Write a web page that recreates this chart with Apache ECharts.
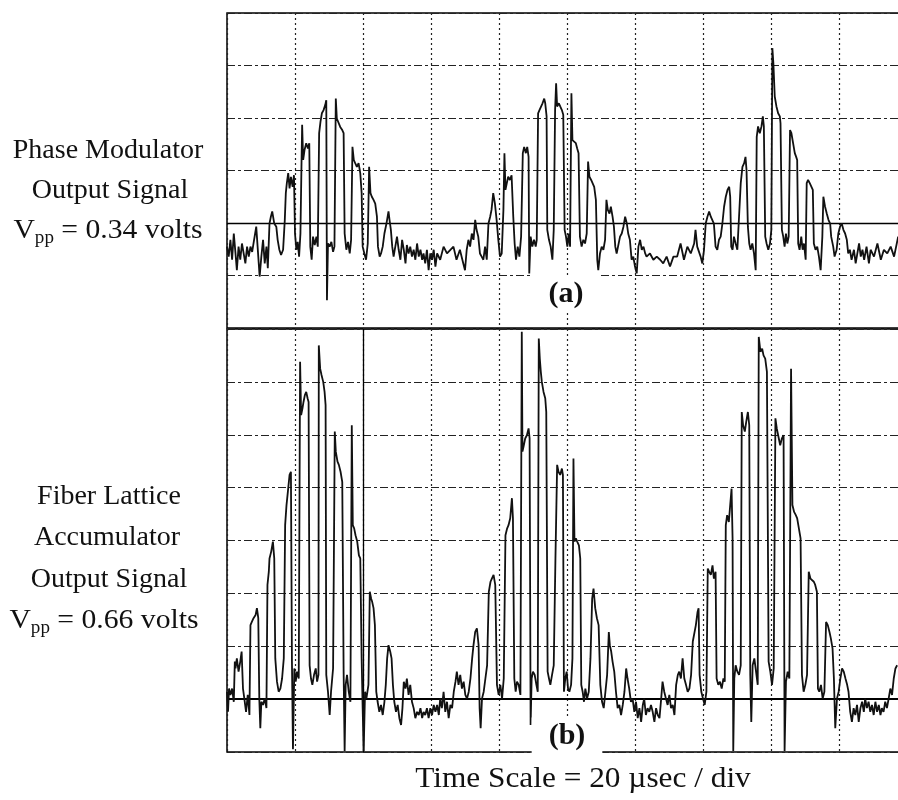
<!DOCTYPE html>
<html>
<head>
<meta charset="utf-8">
<script src="https://cdn.jsdelivr.net/npm/echarts@6/dist/echarts.min.js"></script>
<style>
html,body{margin:0;padding:0;background:#fff;}
#chart{width:898px;height:800px;}
</style>
</head>
<body>
<div id="chart"></div>
<script>
// Time base: microseconds (20 us per division, 10 divisions)
const usPerDiv = 20;
const timeDivs = 10;
// Vertical scale in divisions
const divsA = 6;
const divsB = 8;

const labelsA = ['Phase Modulator', 'Output Signal'];
const vppA = '0.34';
const labelsB = ['Fiber Lattice', 'Accumulator', 'Output Signal'];
const vppB = '0.66';
const timeCaption = 'Time Scale = 20 \u00B5sec / div';
const panelTags = ['(a)', '(b)'];

// Trace (a): [time us, amplitude div]
const traceA = [
[0,1.55],[0.5,1.36],[1.0,1.68],[1.5,1.30],[2.0,1.80],[2.5,1.42],[2.9,1.10],[3.4,1.55],[3.9,1.30],[4.4,1.61],[4.9,1.42],[5.4,1.23],[5.9,1.55],[6.4,1.36],[6.9,1.55],[7.4,1.45],[7.8,1.61],[8.6,1.93],[9.0,1.55],[9.6,0.98],[10.1,1.36],[10.6,1.68],[11.1,1.23],[11.6,1.55],[12.0,1.14],[12.5,1.99],[12.9,2.12],[13.3,2.22],[13.9,1.99],[14.5,1.93],[14.9,1.68],[15.4,1.49],[15.9,1.39],[16.5,1.49],
[17.0,2.06],[17.3,2.57],[17.6,2.76],[18.0,2.95],[18.4,2.66],[18.8,2.88],[19.3,2.69],[19.7,2.91],[20.0,1.80],[20.4,1.49],[20.8,1.64],[21.2,1.36],[21.6,1.80],[21.9,3.07],[22.1,3.87],[22.4,3.20],[22.8,3.39],[23.3,3.52],[23.8,3.42],[24.2,3.52],[24.5,1.55],[24.9,1.30],[25.3,1.74],[25.8,1.58],[26.3,1.74],[26.7,1.55],
[27.1,3.71],[27.5,3.93],[27.9,4.09],[28.4,4.15],[28.9,4.25],[29.2,4.34],[29.4,0.53],[29.7,1.61],[30.2,1.55],[30.7,1.64],[31.2,1.45],[31.6,1.55],[32.0,4.37],[32.3,3.99],[32.7,3.96],[33.3,3.83],[33.9,3.77],[34.3,3.71],[34.6,1.80],[35.1,1.49],[35.6,1.64],[36.1,1.42],[36.5,1.68],
[36.9,3.45],[37.3,3.20],[37.7,3.14],[38.2,3.07],[38.7,3.14],[39.2,2.95],[39.6,2.57],[39.9,1.55],[40.4,1.42],[40.9,1.30],[41.4,1.61],[41.8,3.07],[42.2,2.57],[42.6,2.50],[43.1,2.44],[43.6,2.37],[44.1,2.12],[44.4,1.55],[44.9,1.36],[45.3,1.42],[45.8,1.55],[46.3,1.80],[46.9,1.99],[47.5,2.22],[47.8,2.06],[48.2,1.87],[48.6,1.55],
[49.0,1.36],[49.5,1.55],[50.0,1.74],[50.5,1.49],[51.0,1.30],[51.5,1.68],[52.0,1.49],[52.5,1.23],[52.9,1.58],[53.4,1.42],[53.9,1.55],[54.4,1.36],[54.9,1.49],[55.4,1.30],[55.9,1.61],[56.4,1.36],[56.9,1.49],[57.4,1.30],[57.8,1.42],[58.3,1.23],[58.8,1.49],[59.3,1.10],[59.8,1.42],[60.3,1.30],[60.8,1.49],[61.3,1.17],[61.8,1.42],[62.7,1.30],[63.7,1.55],[64.7,1.42],[65.7,1.49],
[66.6,1.55],[67.5,1.30],[68.5,1.49],[69.5,1.23],[70.0,1.10],[70.5,1.49],[71.0,1.68],[71.5,1.55],[72.0,1.80],[72.5,1.68],[73.0,2.06],[73.4,1.87],[73.9,1.74],[74.4,1.42],[74.9,1.36],[75.4,1.30],[75.9,1.55],[76.4,1.30],[76.9,1.99],[77.4,2.12],[77.8,2.25],[78.3,2.57],[78.8,2.37],[79.3,2.06],[79.8,1.68],[80.3,1.36],[80.8,1.42],
[81.3,2.25],[81.6,3.33],[81.9,2.63],[82.3,2.76],[82.7,2.88],[83.2,2.82],[83.7,2.91],[84.2,2.12],[84.6,1.61],[85.0,1.30],[85.5,1.55],[86.0,1.36],[86.5,1.74],[87.0,3.33],[87.4,3.45],[87.9,3.33],[88.3,3.45],[88.7,3.26],[88.9,1.04],[89.3,1.74],[89.8,1.55],[90.3,1.68],[90.8,1.55],[91.1,1.68],
[91.5,4.09],[91.9,4.15],[92.4,4.18],[92.8,4.28],[93.3,4.37],[93.6,4.28],[94.0,4.03],[94.2,1.87],[94.7,1.68],[95.2,1.55],[95.7,1.30],[96.1,1.87],[96.5,4.15],[96.8,4.66],[97.1,4.22],[97.6,4.28],[98.0,4.22],[98.5,4.15],[98.9,4.06],[99.3,1.87],[99.7,1.74],[100.1,1.55],[100.5,1.80],[100.9,1.55],
[101.3,4.47],[101.6,3.58],[102.1,3.55],[102.6,3.52],[103.0,3.42],[103.4,3.33],[103.8,1.74],[104.3,1.55],[104.8,1.68],[105.3,1.61],[105.8,1.80],[106.2,3.17],[106.6,2.88],[107.1,2.82],[107.6,2.79],[108.0,2.69],[108.5,2.44],[108.9,1.30],[109.2,1.10],[109.7,1.42],[110.2,1.55],[110.7,1.49],[111.2,1.68],
[111.6,2.44],[112.0,2.25],[112.5,2.18],[112.9,2.31],[113.4,2.12],[113.8,1.93],[114.2,1.55],[114.6,1.42],[115.1,1.42],[115.6,1.74],[116.1,1.80],[116.6,1.93],[117.1,2.12],[117.6,1.99],[118.0,1.80],[118.5,1.68],[119.0,1.30],[119.5,1.36],[120.0,1.17],[120.5,1.04],[121.0,1.55],[121.5,1.68],[122.0,1.49],[122.5,1.55],[123.0,1.42],[123.4,1.36],[124.4,1.42],[125.4,1.30],[126.4,1.36],[127.4,1.30],[128.3,1.23],[129.3,1.36],[130.3,1.17],[131.3,1.36],
[132.4,1.36],[133.4,1.61],[134.4,1.30],[135.4,1.55],[136.4,1.42],[137.4,1.61],[137.8,1.87],[138.3,1.55],[139.3,1.36],[139.8,1.23],[140.3,1.49],[140.8,1.99],[141.3,2.12],[141.8,2.22],[142.3,2.12],[142.7,2.15],[143.2,1.99],[143.7,1.55],[144.2,1.49],[144.7,1.68],[145.2,1.74],[145.7,1.99],
[146.2,2.31],[146.7,2.50],[147.2,2.63],[147.7,2.69],[148.0,2.50],[148.3,1.55],[148.7,1.49],[149.1,1.74],[149.6,1.61],[150.1,1.49],[150.6,2.12],[151.1,2.76],[151.6,3.07],[152.1,3.14],[152.5,3.26],[152.8,3.01],[153.2,1.93],[153.6,1.61],[154.0,1.49],[154.5,1.61],[155.0,1.42],[155.5,1.10],
[155.8,3.64],[156.2,3.84],[156.7,3.71],[157.2,3.84],[157.6,4.03],[157.9,3.84],[158.3,1.74],[158.7,1.61],[159.2,1.49],[159.7,1.61],[160.1,1.87],[160.4,5.33],[160.7,5.04],[161.1,4.41],[161.6,4.22],[162.1,4.09],[162.6,4.03],[162.8,3.90],[163.2,1.87],[163.6,1.74],[164.0,1.55],[164.4,1.80],[164.8,1.61],[165.2,1.74],
[165.6,3.77],[166.0,3.71],[166.5,3.52],[167.0,3.33],[167.4,3.26],[167.7,3.20],[168.0,1.61],[168.4,1.49],[168.9,1.74],[169.3,1.49],[169.7,1.61],[170.2,1.30],[170.5,2.76],[170.9,2.82],[171.4,2.76],[171.9,2.69],[172.3,2.63],[172.6,1.61],[173.1,1.49],[173.6,1.55],[174.1,1.36],[174.6,1.10],[175.1,1.74],
[175.4,2.50],[175.9,2.31],[176.4,2.18],[176.9,2.06],[177.4,1.99],[177.7,1.74],[178.3,1.55],[178.7,1.36],[179.3,1.49],[179.8,1.80],[180.3,1.93],[180.8,1.99],[181.3,1.87],[181.8,1.80],[182.3,1.68],[182.7,1.42],[183.2,1.49],[183.7,1.30],[184.4,1.49],[184.9,1.23],[185.4,1.42],[185.9,1.61],[186.4,1.36],[186.9,1.49],[187.4,1.30],[188.1,1.55],[188.8,1.23],[189.3,1.49],[190.3,1.36],[191.3,1.61],[192.3,1.30],[193.2,1.49],[194.2,1.42],[195.2,1.55],[196.2,1.36],[197.4,1.74]
];

// Trace (b): [time us, amplitude div]
const traceB = [
[0,1.14],[0.3,0.76],[0.6,1.20],[1.0,1.08],[1.5,1.20],[2.0,0.95],[2.3,1.71],[2.5,1.58],[2.9,1.77],[3.4,1.52],[3.9,1.71],[4.3,1.90],[4.7,1.20],[5.1,1.01],[5.6,0.76],[6.1,1.08],[6.6,0.70],
[6.9,2.40],[7.3,2.46],[7.8,2.53],[8.4,2.59],[8.8,2.72],[9.2,2.53],[9.5,1.01],[9.8,0.45],[10.1,0.95],[10.6,0.89],[11.1,1.01],[11.6,0.83],
[11.9,3.16],[12.3,3.41],[12.5,3.66],[13.0,3.79],[13.5,3.98],[13.9,3.66],[14.2,1.77],[14.7,1.33],[15.2,1.14],[15.7,1.20],[16.2,1.39],[16.7,1.77],
[17.1,4.29],[17.5,4.67],[17.9,4.92],[18.4,5.24],[18.8,5.30],[19.1,1.71],[19.4,0.05],[19.8,1.58],[20.2,1.33],[20.6,1.52],[21.1,1.39],
[21.5,7.38],[21.8,6.37],[22.2,6.50],[22.5,6.62],[22.9,6.75],[23.3,6.81],[23.7,6.69],[24.0,6.62],[24.3,1.64],[24.7,1.39],[25.1,1.27],[25.6,1.46],[26.1,1.58],[26.5,1.33],[26.9,1.46],
[27.0,7.69],[27.4,7.25],[27.8,7.13],[28.3,7.00],[28.7,6.81],[29.0,6.56],[29.2,1.46],[29.7,1.14],[30.2,0.70],[30.6,1.14],[31.2,1.58],
[31.7,6.06],[32.0,5.68],[32.5,5.49],[32.9,5.43],[33.4,5.30],[33.9,5.11],[34.3,1.52],[34.6,0.02],[34.9,1.27],[35.3,1.46],[35.8,1.14],[36.3,0.95],
[36.7,6.18],[37.0,4.29],[37.4,4.23],[37.8,4.10],[38.3,3.98],[38.8,3.72],[39.2,3.66],[39.6,1.77],[39.9,0.83],[40.2,0.02],[40.6,1.14],[41.0,1.01],[41.6,1.27],
[42.0,3.03],[42.4,2.90],[42.7,2.84],[43.1,2.72],[43.5,2.40],[43.9,1.14],[44.3,0.95],[44.8,0.76],[45.3,0.89],[45.8,0.70],[46.3,0.95],[46.7,1.27],[47.1,1.77],[47.5,2.02],[48.0,1.90],[48.4,1.77],[48.8,1.27],[49.2,0.95],[49.7,0.76],[50.2,0.89],[50.7,0.64],[51.2,0.51],[51.6,0.83],
[52.0,1.33],[52.5,1.20],[52.9,1.39],[53.4,1.08],[53.9,1.27],[54.4,0.95],[54.9,0.83],[55.4,0.64],[55.9,0.76],[56.4,0.70],[56.9,0.83],[57.4,0.64],[57.8,0.76],[58.3,0.70],[58.8,0.83],[59.3,0.64],[59.8,0.83],[60.3,0.70],[60.8,0.89],[61.3,0.76],[61.8,0.89],[62.3,0.70],[62.7,1.01],[63.2,0.83],[63.7,1.14],[64.2,0.76],[64.7,0.95],[65.2,0.64],[65.7,0.89],[66.2,0.83],
[66.7,1.14],[67.2,1.33],[67.6,1.52],[68.1,1.27],[68.6,1.46],[69.1,1.20],[69.6,1.33],[70.1,1.08],[70.6,1.01],[71.1,1.14],[71.6,1.39],[72.1,1.77],[72.5,2.02],[73.0,2.27],[73.5,2.34],[74.0,2.02],[74.3,0.83],[74.6,0.45],[75.0,1.01],[75.5,1.14],[76.0,1.39],[76.5,1.64],
[77.0,3.03],[77.5,3.22],[77.9,3.28],[78.4,3.35],[78.9,3.16],[79.4,1.27],[79.9,1.08],[80.4,1.27],[80.9,1.01],[81.4,1.39],
[81.9,4.10],[82.4,4.23],[82.8,4.29],[83.3,4.42],[83.8,4.80],[84.1,4.42],[84.5,1.39],[84.9,1.14],[85.3,1.33],[85.8,1.27],[86.3,1.08],
[86.7,7.95],[86.9,5.68],[87.3,5.80],[87.7,5.93],[88.2,5.99],[88.7,6.12],[89.0,5.93],[89.3,0.51],[89.6,1.39],[90.0,1.52],[90.5,1.46],[91.0,1.27],[91.4,1.14],
[91.7,7.82],[92.0,7.44],[92.3,7.19],[92.6,7.00],[93.1,6.81],[93.6,6.69],[93.9,6.43],[94.3,1.52],[94.7,1.39],[95.1,1.27],[95.6,1.46],[96.1,1.64],
[96.6,3.66],[97.1,5.43],[97.5,5.30],[98.0,5.24],[98.5,5.36],[98.8,5.24],[99.1,1.14],[99.5,1.39],[99.9,1.52],[100.3,1.20],[100.7,1.14],[101.2,1.27],[101.6,1.77],
[101.9,5.55],[102.2,3.98],[102.6,4.04],[103.0,3.98],[103.5,3.91],[103.9,3.66],[104.2,1.27],[104.6,1.14],[105.0,0.95],[105.4,1.20],[105.9,1.01],[106.4,1.14],[106.9,1.77],
[107.4,2.90],[107.8,3.09],[108.3,2.72],[108.8,2.53],[109.3,2.40],[109.8,1.27],[110.3,0.95],[110.8,0.83],[111.3,1.14],[111.8,1.46],
[112.3,2.27],[112.6,2.02],[113.0,1.90],[113.4,1.71],[113.9,1.52],[114.4,1.14],[114.9,0.83],[115.4,0.89],[115.9,0.70],[116.4,0.89],[116.9,1.14],[117.4,1.58],[117.8,1.39],[118.3,1.20],[118.8,0.95],[119.3,1.01],[119.8,0.76],[120.3,0.95],[120.8,0.64],[121.3,0.83],[121.8,0.57],[122.3,0.89],[122.7,1.01],[123.2,0.70],[123.7,0.83],[124.2,0.76],[124.7,0.89],[125.2,0.76],[125.7,0.57],[126.2,0.83],[126.7,0.70],[127.2,0.64],
[127.7,1.01],[128.1,1.33],[128.6,1.14],[129.1,1.01],[129.6,0.89],[130.1,1.08],[130.6,0.83],[131.1,0.89],[131.6,0.70],[132.1,1.27],[132.6,1.46],[133.0,1.52],[133.5,1.39],[134.0,1.77],[134.5,1.39],[135.0,1.27],[135.5,1.14],[136.0,1.20],[136.5,1.46],
[137.0,2.09],[137.5,2.09],[137.9,2.40],[138.4,2.65],[138.7,2.72],[139.0,1.46],[139.5,1.14],[140.0,1.01],[140.5,0.89],[141.0,1.14],
[141.4,3.47],[141.8,3.41],[142.3,3.35],[142.8,3.53],[143.2,3.28],[143.7,3.41],[144.0,1.39],[144.5,1.27],[145.0,1.33],[145.5,1.20],[146.0,1.39],[146.4,1.33],
[146.7,4.29],[147.1,4.48],[147.6,4.35],[148.0,4.67],[148.4,4.98],[148.7,4.04],[148.9,0.02],[149.2,1.39],[149.6,1.64],[150.1,1.52],[150.6,1.46],[151.1,1.64],
[151.4,6.43],[151.8,6.18],[152.3,6.06],[152.7,6.24],[153.2,6.43],[153.6,6.18],[153.9,1.46],[154.2,0.57],[154.6,1.64],[155.1,1.77],[155.6,1.52],[156.1,1.27],
[156.4,7.85],[156.9,7.57],[157.4,7.63],[157.8,7.50],[158.3,7.44],[158.8,7.19],[159.3,1.71],[159.8,1.52],[160.3,1.27],[160.8,1.58],
[161.3,6.31],[161.7,6.12],[162.3,5.93],[162.7,5.80],[163.2,5.93],[163.7,5.99],[164.0,0.02],[164.4,1.33],[164.9,1.52],[165.4,1.39],
[165.9,7.25],[166.3,4.67],[166.8,4.54],[167.3,4.48],[167.7,4.42],[168.2,4.23],[168.7,4.04],[169.1,1.46],[169.6,1.14],[170.1,1.27],[170.6,1.46],
[171.1,3.41],[171.6,3.28],[172.1,3.28],[172.6,3.22],[173.0,3.16],[173.5,3.03],[173.8,1.20],[174.2,1.14],[174.7,1.27],[175.2,1.01],[175.7,1.14],
[176.2,2.46],[176.7,2.40],[177.2,2.27],[177.6,2.15],[178.1,1.96],[178.5,1.39],[178.9,0.45],[179.4,1.01],[179.9,1.14],[180.4,1.39],[180.9,1.58],[181.4,1.52],[181.9,1.39],[182.4,1.27],[182.8,1.14],
[183.3,0.76],[183.8,0.57],[184.3,0.83],[184.8,0.70],[185.3,0.89],[185.8,0.57],[186.3,0.83],[186.8,0.95],[187.3,0.76],[187.7,1.01],[188.2,0.83],[188.7,0.95],[189.2,0.76],[189.7,0.89],[190.2,0.70],[190.7,0.95],[191.2,0.76],[191.7,0.89],[192.2,0.70],[192.6,0.83],[193.1,0.76],[193.6,0.95],[194.1,0.83],[194.6,1.01],[195.1,1.20],[195.6,1.08],[196.1,1.39],[196.6,1.58],[197.1,1.64]
];

const serif = '"Liberation Serif", "Times New Roman", serif';
const ink = '#111';

const chart = echarts.init(document.getElementById('chart'), null, {renderer: 'canvas'});

function xAx(gi) {
  return {
    type: 'value', gridIndex: gi, min: 0, max: usPerDiv * timeDivs, interval: usPerDiv,
    axisLine: {show: false}, axisTick: {show: false}, axisLabel: {show: false},
    splitLine: {show: true, lineStyle: {color: '#222', width: 1.2, type: [2, 3]}}
  };
}
function yAx(gi, n) {
  return {
    type: 'value', gridIndex: gi, min: 0, max: n, interval: 1,
    axisLine: {show: false}, axisTick: {show: false}, axisLabel: {show: false},
    splitLine: {show: true, lineStyle: {color: '#222', width: 1.2, type: [8, 3, 3, 3]}}
  };
}

const labelStyle = (t, x, y, size, sx) => ({
  type: 'text', x: x, y: y, z: 50, scaleX: sx || 1,
  style: {text: t, font: (size || 28) + 'px ' + serif, fill: ink, align: 'center', verticalAlign: 'middle',
          textAlign: 'center', textVerticalAlign: 'middle'}
});
const vppLabel = (val, x, y) => ({
  type: 'text', x: x, y: y, z: 50, scaleX: 1.06,
  style: {
    text: '{v|V}{s|pp}{v| = ' + val + ' volts}',
    align: 'center', verticalAlign: 'middle', textAlign: 'center', textVerticalAlign: 'middle',
    rich: {
      v: {fontFamily: serif, fontSize: 28, lineHeight: 32, fill: ink, color: ink},
      s: {fontFamily: serif, fontSize: 18, lineHeight: 18, verticalAlign: 'bottom', fill: ink, color: ink}
    }
  }
});
const tagLabel = (t, x, y, pad) => ({
  type: 'text', x: x, y: y, z: 100,
  style: {text: t, font: 'bold 30px ' + serif, fill: ink, align: 'center', verticalAlign: 'middle',
          textAlign: 'center', textVerticalAlign: 'middle', backgroundColor: '#fff', padding: pad}
});

const option = {
  animation: false,
  backgroundColor: '#fff',
  grid: [
    {left: 227, top: 13, width: 680, height: 315, outerBoundsMode: 'none', containLabel: false, show: true, borderColor: '#000', borderWidth: 1.5, backgroundColor: 'transparent'},
    {left: 227, top: 329, width: 680, height: 423, outerBoundsMode: 'none', containLabel: false, show: true, borderColor: '#000', borderWidth: 1.5, backgroundColor: 'transparent'}
  ],
  xAxis: [xAx(0), xAx(1)],
  yAxis: [yAx(0, divsA), yAx(1, divsB)],
  series: [
    {
      type: 'line', xAxisIndex: 0, yAxisIndex: 0, data: traceA, showSymbol: false, symbol: 'none',
      sampling: null, lineStyle: {color: ink, width: 1.8}, z: 5,
      markLine: {silent: true, symbol: 'none', label: {show: false},
        lineStyle: {type: 'solid', color: '#000', width: 1.3}, data: [{yAxis: 2}]}
    },
    {
      type: 'line', xAxisIndex: 1, yAxisIndex: 1, data: traceB, showSymbol: false, symbol: 'none',
      sampling: null, lineStyle: {color: ink, width: 1.8}, z: 5,
      markLine: {silent: true, symbol: 'none', label: {show: false},
        lineStyle: {type: 'solid', color: '#000', width: 2}, data: [{yAxis: 1}, {xAxis: 40, lineStyle: {width: 1.3}}]}
    }
  ],
  graphic: [
    labelStyle(labelsA[0], 108, 151),
    labelStyle(labelsA[1], 110, 191),
    vppLabel(vppA, 108, 231),
    labelStyle(labelsB[0], 109, 497),
    labelStyle(labelsB[1], 107, 538),
    labelStyle(labelsB[2], 109, 580),
    vppLabel(vppB, 104, 621),
    tagLabel(panelTags[0], 566, 294, [6, 16, 2, 16]),
    tagLabel(panelTags[1], 567, 736, [2, 17, 5, 17]),
    labelStyle(timeCaption, 583, 779, 29, 1.08)
  ]
};
chart.setOption(option);
</script>
</body>
</html>
